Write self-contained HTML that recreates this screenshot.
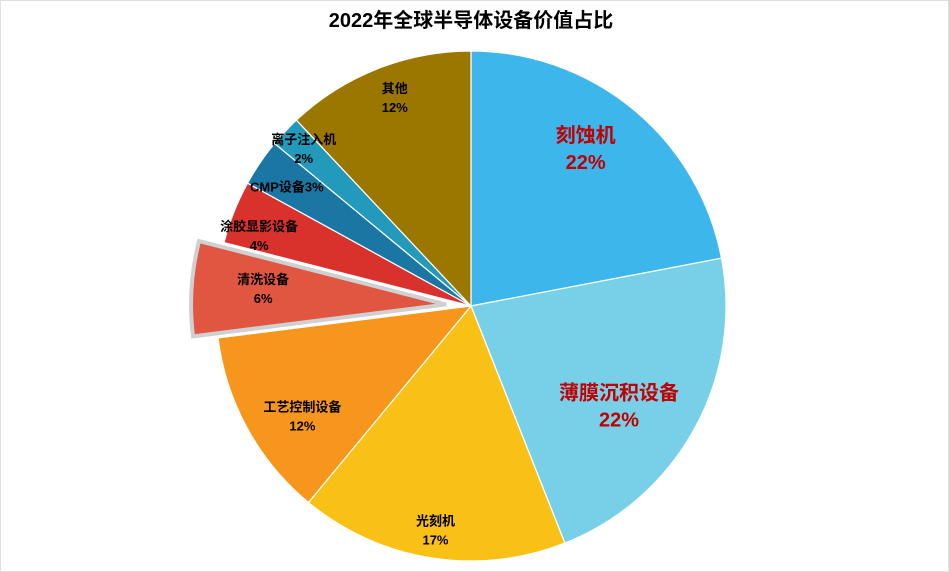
<!DOCTYPE html>
<html><head><meta charset="utf-8"><style>
body{margin:0;background:#fff;}
svg{display:block;font-family:"Liberation Sans","Noto Sans CJK SC",sans-serif;font-weight:bold;}
</style></head><body>
<svg id="c" width="949" height="572">
<rect x="0.5" y="0.5" width="948" height="571" fill="#fff" stroke="#e0e0e0"/>
<text x="471" y="27" text-anchor="middle" font-size="20" fill="#000">2022年全球半导体设备价值占比</text>
<g id="slices"></g><g id="labels"></g>
</svg>
<script>
const categories=["刻蚀机","薄膜沉积设备","光刻机","工艺控制设备","清洗设备","涂胶显影设备","CMP设备","离子注入机","其他"];
const values=[22,22,17,12,6,4,3,2,12];
const colors=["#3db7eb","#77d0e8","#f9c016","#f7961d","#e05640","#d9312b","#1a77a3","#2399bc","#9c7700"];
const exploded=[0,0,0,0,1,0,0,0,0];
const labelR=[0.765,0.70,0.89,0.79,0.72,0.875,0.86,0.9,0.87];
const labelDA=[-3.6,5.2,0,-4.4,1.3,-3.3,-1.3,0,1.5];
const big=[1,1,0,0,0,0,0,0,0];
const cx=471,cy=306,R=255,OFF=25;
const ns="http://www.w3.org/2000/svg";
const total=values.reduce((a,b)=>a+b,0);
const sg=document.getElementById('slices'),lg=document.getElementById('labels');
let acc=0;
function pt(x,y,r,a){return [x+r*Math.sin(a),y-r*Math.cos(a)];}
values.forEach((v,i)=>{
 const a0=acc/total*2*Math.PI,a1=(acc+v)/total*2*Math.PI,am=(a0+a1)/2;acc+=v;
 let x=cx,y=cy;
 if(exploded[i]){x+=OFF*Math.sin(am);y-=OFF*Math.cos(am);}
 const p0=pt(x,y,R,a0),p1=pt(x,y,R,a1);
 const p=document.createElementNS(ns,'path');
 p.setAttribute('d',`M${x},${y}L${p0[0]},${p0[1]}A${R},${R} 0 ${a1-a0>Math.PI?1:0} 1 ${p1[0]},${p1[1]}Z`);
 p.setAttribute('fill',colors[i]);
 p.setAttribute('stroke',exploded[i]?'#d0d0d0':'#fff');
 p.setAttribute('stroke-width',exploded[i]?4:1.2);
 
 
 sg.appendChild(p);
 const lp=pt(x,y,R*labelR[i],am+labelDA[i]*Math.PI/180);
 const fs=big[i]?20:13;
 const t=document.createElementNS(ns,'text');
 t.setAttribute('text-anchor','middle');
 t.setAttribute('font-size',fs);
 t.setAttribute('fill',big[i]?'#c00000':'#000');
 
 
 const lh=big[i]?27:19;
 const bo=fs*0.36;
 if(categories[i]==="CMP设备"){
  const s=document.createElementNS(ns,'tspan');s.setAttribute('x',lp[0]);s.setAttribute('y',lp[1]+bo);s.textContent=categories[i]+v+'%';t.appendChild(s);
 }else{
  const s1=document.createElementNS(ns,'tspan');s1.setAttribute('x',lp[0]);s1.setAttribute('y',lp[1]-lh/2+bo);s1.textContent=categories[i];
  const s2=document.createElementNS(ns,'tspan');s2.setAttribute('x',lp[0]);s2.setAttribute('y',lp[1]+lh/2+bo);s2.textContent=v+'%';
  t.appendChild(s1);t.appendChild(s2);
 }
 lg.appendChild(t);
});
</script>
</body></html>
